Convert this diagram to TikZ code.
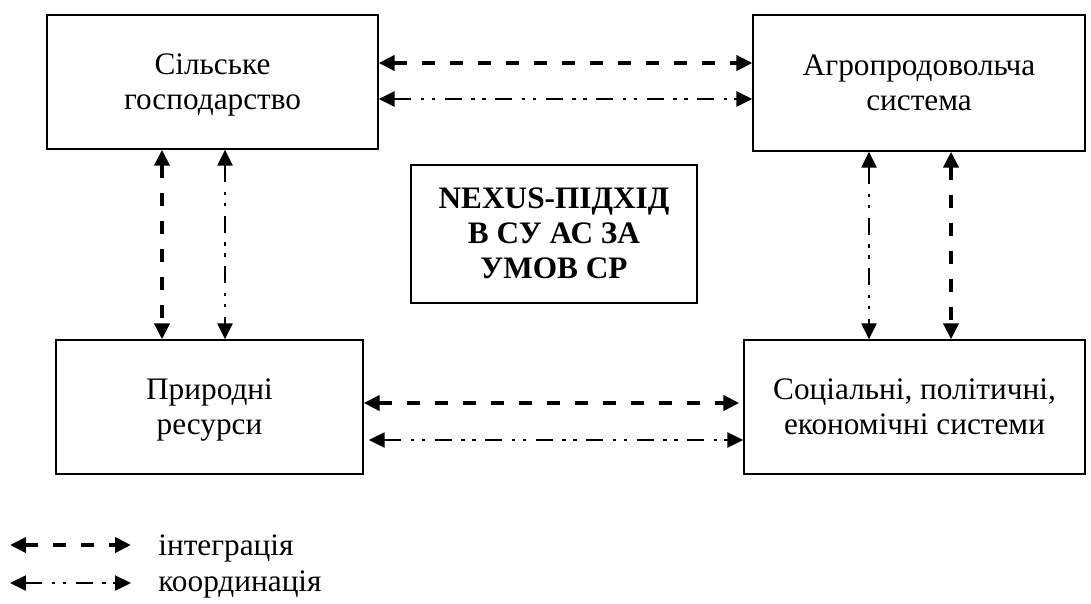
\documentclass[tikz,border=0pt]{standalone}
\usepackage{fontspec}
\setmainfont{Liberation Serif}[BoldFont={Liberation Serif Bold}]
\usetikzlibrary{arrows.meta}

\tikzset{
  blok/.style={draw, line width=0.8pt, align=center, inner sep=0pt,
    text height=1.3cm, text depth=0.2cm,
    font=\fontsize{17.8}{19.9}\selectfont},
  integ/.style={line width=2.3pt, dash pattern=on 0.26cm off 0.3cm,
    {Triangle[length=0.32cm,width=0.3cm]}-{Triangle[length=0.32cm,width=0.3cm]}},
  koord/.style={line width=1.4pt,
    dash pattern=on 0.34cm off 0.19cm on 0.07cm off 0.15cm on 0.07cm off 0.19cm,
    {Triangle[length=0.32cm,width=0.3cm]}-{Triangle[length=0.32cm,width=0.3cm]}},
  legtxt/.style={anchor=west, inner sep=0pt, font=\fontsize{17.8}{19.9}\selectfont}
}

\begin{document}
\begin{tikzpicture}[x=0.02cm, y=-0.02cm]
  \useasboundingbox (0,0) rectangle (1091,603);

  % boxes
  \node [blok, minimum width=6.62cm, minimum height=2.68cm] (silgosp) at (212.5, 82)
    {Сільське\\господарство};
  \node [blok, minimum width=6.64cm, minimum height=2.72cm] (agro) at (919, 83)
    {Агропродовольча\\система};
  \node [blok, minimum width=6.14cm, minimum height=2.68cm] (resurs) at (209.5, 407)
    {Природні\\ресурси};
  \node [blok, minimum width=6.82cm, minimum height=2.68cm] (syst) at (914.5, 407)
    {Соціальні, політичні,\\економічні системи};
  \node [blok, minimum width=5.72cm, minimum height=2.76cm, text height=1.96cm,
    font=\fontsize{17.8}{19.9}\selectfont\bfseries]
    (nexus) at (554, 234) {NEXUS-ПІДХІД\\В СУ АС ЗА\\УМОВ СР};

  % horizontal links
  \draw [integ] (silgosp.east |- 0,63) -- (agro.west |- 0,63);
  \draw [koord] (silgosp.east |- 0,99) -- (agro.west |- 0,99);
  \draw [integ] (resurs.east |- 0,403) -- ([xshift=-0.08cm]syst.west |- 0,403);
  \draw [koord] ([xshift=0.1cm]resurs.east |- 0,440) -- (syst.west |- 0,440);

  % vertical links
  \draw [integ] (silgosp.south -| 162,0) -- (resurs.north -| 162,0);
  \draw [koord] (silgosp.south -| 225,0) -- (resurs.north -| 225,0);
  \draw [koord] (agro.south -| 869,0) -- (syst.north -| 869,0);
  \draw [integ] (agro.south -| 951,0) -- (syst.north -| 951,0);

  % legend
  \coordinate (leg1a) at (10,545);
  \coordinate (leg1b) at (131,545);
  \coordinate (leg2a) at (10,583);
  \coordinate (leg2b) at (131,583);
  \draw [integ] (leg1a) -- (leg1b);
  \draw [koord] (leg2a) -- (leg2b);
  \node [legtxt] (legint) at (158,548) {інтеграція};
  \node [legtxt] (legkoord) at (158,584) {координація};
\end{tikzpicture}
\end{document}
